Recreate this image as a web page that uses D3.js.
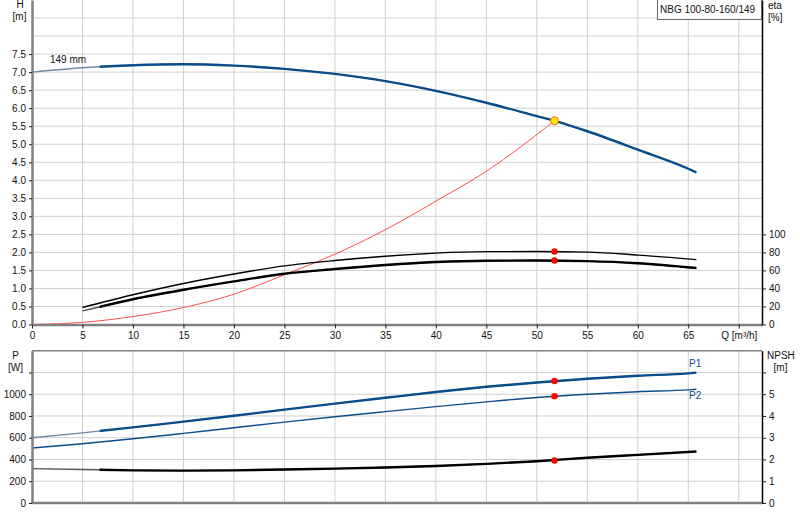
<!DOCTYPE html>
<html>
<head>
<meta charset="utf-8">
<script src="https://cdn.jsdelivr.net/npm/d3@7"></script>
<style>
  body { margin: 0; background: #fff; }
  text { font-family: "Liberation Sans", Arial, sans-serif; font-size: 10px; fill: #111; }
</style>
</head>
<body>
<svg width="800" height="520"></svg>
<script>
// Pump curve readings (Q in m³/h)
var headQ = [0, 5, 10, 15, 20, 25, 30, 35, 40, 45, 50, 51.75, 55, 60, 65, 65.8];
var headH = [7.0, 7.12, 7.19, 7.22, 7.18, 7.09, 6.95, 6.75, 6.48, 6.15, 5.78, 5.65, 5.36, 4.85, 4.32, 4.22];

var sysQ = [0, 5, 10, 15, 20, 25, 30, 35, 40, 45, 51.75];
var sysH = [0, 0.06, 0.22, 0.47, 0.84, 1.38, 1.95, 2.63, 3.42, 4.25, 5.65];

var etaQ = [5, 10, 15, 20, 25, 30, 35, 40, 45, 50, 55, 60, 65.8];
var etaPump = [18.9, 33, 45.5, 56, 65, 71, 75.7, 79.2, 80.8, 81, 80.3, 77, 72];
var etaTotal = [15, 28, 38.5, 47.8, 56.3, 61.5, 66, 69.3, 70.8, 71, 70.3, 68, 62.7];

var powQ = [0, 5, 10, 15, 20, 25, 30, 35, 40, 45, 50, 55, 60, 65, 65.8];
var powP1 = [600, 645, 695, 748, 802, 858, 913, 967, 1020, 1068, 1108, 1142, 1170, 1192, 1198];
var powP2 = [505, 545, 590, 640, 692, 743, 793, 840, 886, 930, 970, 1000, 1023, 1040, 1045];

var npshQ = [0, 5, 10, 15, 20, 25, 30, 35, 40, 45, 50, 55, 60, 65.8];
var npshM = [1.58, 1.54, 1.5, 1.49, 1.5, 1.54, 1.58, 1.63, 1.7, 1.8, 1.92, 2.08, 2.21, 2.37];

// duty point
var dutyQ = 51.75, dutyH = 5.65, dutyEta = [81, 71], dutyP = [1121, 982], dutyNpsh = 1.95;

var qTicks = [0, 5, 10, 15, 20, 25, 30, 35, 40, 45, 50, 55, 60, 65, 70];
var hTicks = [0, 0.5, 1, 1.5, 2, 2.5, 3, 3.5, 4, 4.5, 5, 5.5, 6, 6.5, 7, 7.5];
var hGrid = [0.5, 1, 1.5, 2, 2.5, 3, 3.5, 4, 4.5, 5, 5.5, 6, 6.5, 7, 7.5, 8, 8.5];
var etaTicks = [0, 20, 40, 60, 80, 100];
var pTicks = [0, 200, 400, 600, 800, 1000, 1200];
var npshTicks = [0, 1, 2, 3, 4, 5, 6];

var svg = d3.select("svg");
var blue = "#0b4d8a", paleBlue = "#7088a8", red = "#ff0000";

var x = d3.scaleLinear().domain([0, 72.3]).range([32, 762]);
var yH = d3.scaleLinear().domain([0, 9]).range([324.5, 0]);
var yEta = d3.scaleLinear().domain([0, 360]).range([324.5, 0]);
var yP = d3.scaleLinear().domain([0, 1400]).range([503, 350.7]);
var yN = d3.scaleLinear().domain([0, 7]).range([503, 350.7]);

// clip for the thick part of the curves
svg.append("clipPath").attr("id", "thick")
  .append("rect").attr("x", x(6.7)).attr("y", 0).attr("width", 800).attr("height", 520);

// grid
var grid = svg.append("g").attr("stroke", "#cfcfcf").attr("stroke-width", 1);
grid.selectAll(".vt").data(qTicks.slice(1)).enter().append("line")
  .attr("x1", d => x(d)).attr("x2", d => x(d)).attr("y1", 0).attr("y2", yH(0));
grid.selectAll(".ht").data(hGrid).enter().append("line")
  .attr("x1", x(0)).attr("x2", 762).attr("y1", d => yH(d)).attr("y2", d => yH(d));
grid.selectAll(".vb").data(qTicks.slice(1)).enter().append("line")
  .attr("x1", d => x(d)).attr("x2", d => x(d)).attr("y1", 350.7).attr("y2", yP(0));
grid.selectAll(".hb").data(pTicks.slice(1)).enter().append("line")
  .attr("x1", x(0)).attr("x2", 762).attr("y1", d => yP(d)).attr("y2", d => yP(d));

function curve(g, qs, vs, yScale, color, thin, thick, paleColor) {
  var pts = d3.zip(qs, vs);
  var line = d3.line().x(d => x(d[0])).y(d => yScale(d[1])).curve(d3.curveMonotoneX);
  g.append("path").attr("d", line(pts)).attr("fill", "none")
    .attr("stroke", paleColor || color).attr("stroke-width", thin);
  if (thick) {
    g.append("path").attr("d", line(pts)).attr("fill", "none")
      .attr("stroke", color).attr("stroke-width", thick).attr("clip-path", "url(#thick)");
  }
}

var plot = svg.append("g");
// system curve
curve(plot, sysQ, sysH, yH, "#ff5050", 1);
// efficiencies
curve(plot, etaQ, etaPump, yEta, "#000", 1.4, null, "#000");
curve(plot, etaQ, etaTotal, yEta, "#000", 1.3, 2.4, "#555");
// head
curve(plot, headQ, headH, yH, blue, 1.4, 2.4, paleBlue);
// power and npsh
curve(plot, powQ, powP1, yP, blue, 1.4, 2.4, paleBlue);
curve(plot, powQ, powP2, yP, blue, 1.4, null, blue);
curve(plot, npshQ, npshM, yN, "#000", 1.4, 2.4, "#555");

// duty point markers
var dots = [[dutyQ, yEta(dutyEta[0])], [dutyQ, yEta(dutyEta[1])], [dutyQ, yP(dutyP[0])],
            [dutyQ, yP(dutyP[1])], [dutyQ, yN(dutyNpsh)]];
plot.selectAll(".dot").data(dots).enter().append("circle")
  .attr("cx", d => x(d[0])).attr("cy", d => d[1]).attr("r", 3.2).attr("fill", red);
plot.append("circle").attr("cx", x(dutyQ)).attr("cy", yH(dutyH)).attr("r", 4)
  .attr("fill", "#ffe600").attr("stroke", "#f07020").attr("stroke-width", 1);

// axes
function styleAxis(g, color, width) {
  g.select(".domain").attr("stroke", color).attr("stroke-width", width);
  g.selectAll(".tick line").attr("stroke", "#222");
  g.selectAll(".tick text").style("font-family", "'Liberation Sans', Arial, sans-serif")
    .style("font-size", "10px").attr("fill", "#111");
}

svg.append("g").attr("transform", "translate(0," + yH(0) + ")")
  .call(d3.axisBottom(x).tickValues(qTicks).tickSize(4).tickSizeOuter(0)
    .tickFormat(d => d === 70 ? "Q [m³/h]" : d))
  .call(g => styleAxis(g, "#808080", 2.5));

svg.append("g").attr("transform", "translate(" + x(0) + ",0)")
  .call(d3.axisLeft(yH).tickValues(hTicks).tickSize(3).tickSizeOuter(0).tickFormat(d3.format(".1f")))
  .call(g => styleAxis(g, "#808080", 2.5));

svg.append("g").attr("transform", "translate(762,0)")
  .call(d3.axisRight(yEta).tickValues(etaTicks).tickSize(4).tickSizeOuter(0))
  .call(g => styleAxis(g, "#000", 1.5));

svg.append("line").attr("x1", x(0)).attr("x2", 762).attr("y1", 350.7).attr("y2", 350.7)
  .attr("stroke", "#808080").attr("stroke-width", 1.5);
svg.append("line").attr("x1", x(0)).attr("x2", 762).attr("y1", yP(0)).attr("y2", yP(0))
  .attr("stroke", "#808080").attr("stroke-width", 2.5);

svg.append("g").attr("transform", "translate(" + x(0) + ",0)")
  .call(d3.axisLeft(yP).tickValues(pTicks).tickSize(3).tickSizeOuter(0)
    .tickFormat(d => d === 1200 ? "" : d))
  .call(g => styleAxis(g, "#808080", 2.5));

svg.append("g").attr("transform", "translate(762,0)")
  .call(d3.axisRight(yN).tickValues(npshTicks).tickSize(4).tickSizeOuter(0)
    .tickFormat(d => d === 6 ? "" : d))
  .call(g => styleAxis(g, "#000", 1.5));

// axis titles
var titles = [["H", 20, 8, "middle"], ["[m]", 19.5, 20, "middle"],
              ["eta", 768, 9, "start"], ["[%]", 768, 21, "start"],
              ["P", 15.5, 359, "middle"], ["[W]", 15.5, 371, "middle"],
              ["NPSH", 767, 359, "start"], ["[m]", 780.5, 371, "middle"]];
svg.selectAll(".title").data(titles).enter().append("text")
  .attr("x", d => d[1]).attr("y", d => d[2]).attr("text-anchor", d => d[3]).text(d => d[0]);

svg.append("text").attr("x", 50).attr("y", 63).text("149 mm");
svg.append("text").attr("x", 689).attr("y", 367).style("fill", blue).text("P1");
svg.append("text").attr("x", 689).attr("y", 399).style("fill", blue).text("P2");

// legend box
svg.append("rect").attr("x", 657.5).attr("y", -1).attr("width", 104).attr("height", 20.5)
  .attr("fill", "#fff").attr("stroke", "#666");
svg.append("text").attr("x", 660).attr("y", 13).text("NBG 100-80-160/149");
</script>
</body>
</html>
